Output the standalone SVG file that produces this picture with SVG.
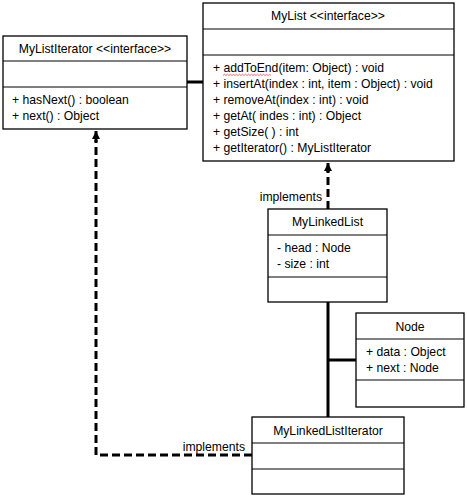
<svg xmlns="http://www.w3.org/2000/svg" width="467" height="500" viewBox="0 0 467 500">
<style>
.box{fill:#fff;stroke:#000;stroke-width:1.3}
.div{stroke:#000;stroke-width:1}
text{font-family:"Liberation Sans","Noto Sans",Arial,sans-serif;font-size:12.2px;fill:#000}
.c{text-anchor:middle}
.solid{fill:none;stroke:#000;stroke-width:3}
.dash{fill:none;stroke:#000;stroke-width:3;stroke-dasharray:8 4}
</style>
<defs>
<marker id="tri" markerWidth="8" markerHeight="8" viewBox="0 0 8 8" refX="8" refY="4" orient="auto" markerUnits="userSpaceOnUse">
<path d="M0,0 L8,4 L0,8 Z" fill="#000"/>
</marker>
</defs>
<g id="connectors">
<line class="solid" x1="187" y1="82" x2="203" y2="82"/>
<path class="dash" d="M328,209 V170" />
<line x1="328" y1="172" x2="328" y2="163" stroke="#000" stroke-width="3" marker-end="url(#tri)"/>
<path class="dash" d="M252,455 H96 V140"/>
<line x1="96" y1="142" x2="96" y2="131" stroke="#000" stroke-width="3" marker-end="url(#tri)"/>
<line class="solid" x1="328" y1="302" x2="328" y2="417"/>
<line class="solid" x1="328" y1="360" x2="356" y2="360"/>
<text x="322" y="201" text-anchor="end">implements</text>
<text x="245" y="451" text-anchor="end">implements</text>
</g>
<g id="MyListIterator">
<rect class="box" x="3" y="36" width="184" height="93"/>
<line class="div" x1="3" y1="61" x2="187" y2="61"/>
<line class="div" x1="3" y1="87" x2="187" y2="87"/>
<text class="c" x="95" y="53">MyListIterator &lt;&lt;interface&gt;&gt;</text>
<text x="12" y="104">+ hasNext() : boolean</text>
<text x="12" y="120">+ next() : Object</text>
</g>
<g id="MyList">
<rect class="box" x="203" y="3" width="251" height="158"/>
<line class="div" x1="203" y1="29" x2="454" y2="29"/>
<line class="div" x1="203" y1="55" x2="454" y2="55"/>
<text class="c" x="328" y="20">MyList &lt;&lt;interface&gt;&gt;</text>
<text x="213" y="72">+ addToEnd(item: Object) : void</text>
<path d="M223,75.5 l1.5,-1.2 l1.5,1.2 l1.5,-1.2 l1.5,1.2 l1.5,-1.2 l1.5,1.2 l1.5,-1.2 l1.5,1.2 l1.5,-1.2 l1.5,1.2 l1.5,-1.2 l1.5,1.2 l1.5,-1.2 l1.5,1.2 l1.5,-1.2 l1.5,1.2 l1.5,-1.2 l1.5,1.2 l1.5,-1.2 l1.5,1.2 l1.5,-1.2 l1.5,1.2 l1.5,-1.2 l1.5,1.2 l1.5,-1.2 l1.5,1.2 l1.5,-1.2 l1.5,1.2 l1.5,-1.2 l1.5,1.2 l1.5,-1.2 l1.5,1.2" fill="none" stroke="#e03030" stroke-width="0.7"/>
<text x="213" y="88">+ insertAt(index : int, item : Object) : void</text>
<text x="213" y="104">+ removeAt(index : int) : void</text>
<text x="213" y="120">+ getAt( indes : int) : Object</text>
<text x="213" y="136">+ getSize( ) : int</text>
<text x="213" y="152">+ getIterator() : MyListIterator</text>
</g>
<g id="MyLinkedList">
<rect class="box" x="268" y="209" width="119" height="93"/>
<line class="div" x1="268" y1="235" x2="387" y2="235"/>
<line class="div" x1="268" y1="277" x2="387" y2="277"/>
<text class="c" x="327.5" y="226">MyLinkedList</text>
<text x="277" y="252">- head : Node</text>
<text x="277" y="268">- size : int</text>
</g>
<g id="Node">
<rect class="box" x="356" y="313" width="108" height="94"/>
<line class="div" x1="356" y1="339" x2="464" y2="339"/>
<line class="div" x1="356" y1="380" x2="464" y2="380"/>
<text class="c" x="410" y="331">Node</text>
<text x="366" y="356">+ data : Object</text>
<text x="366" y="372">+ next : Node</text>
</g>
<g id="MyLinkedListIterator">
<rect class="box" x="252" y="417" width="152" height="77"/>
<line class="div" x1="252" y1="443" x2="404" y2="443"/>
<line class="div" x1="252" y1="469" x2="404" y2="469"/>
<text class="c" x="328" y="435">MyLinkedListIterator</text>
</g>
</svg>
